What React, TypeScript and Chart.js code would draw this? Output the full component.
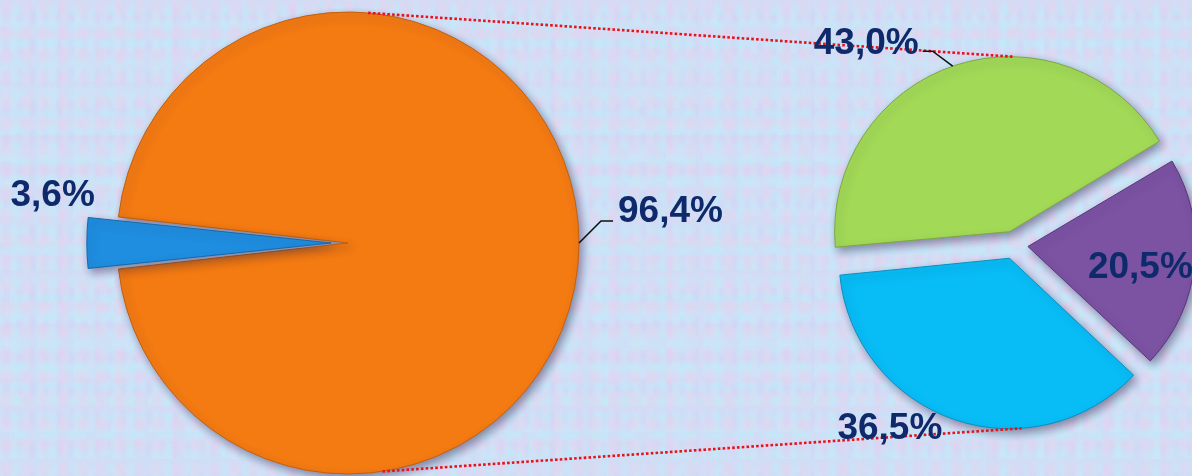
import { useEffect, useRef } from 'react';
import { Chart, registerables } from 'chart.js';

Chart.register(...registerables);

// ---- data ----
const leftCategories = ['Remainder', 'Breakdown'];
const leftValues = [96.4, 3.6];
const rightCategories = ['Group 1', 'Group 2', 'Group 3'];
const rightValues = [43.0, 20.5, 36.5];

// ---- styles ----
const leftColors = ['#f47a12', '#1f8ee0'];
const leftBorders = ['#c0600c', '#1668a8'];
const rightColors = ['#a2da57', '#7c52a3', '#08bdf6'];
const rightBorders = ['#7aa83e', '#583679', '#0690bf'];
const LABEL_COLOR = '#0e2a6a';
const FONT_SIZE = 37;
const FONT = `bold ${FONT_SIZE}px "Liberation Sans", Arial, sans-serif`;
const W = 1192;
const H = 476;

const fmt = (v: number) => v.toFixed(1).replace('.', ',') + '%';
const deg = (d: number) => (d * Math.PI) / 180;

function geom(arc: any) {
  const p = arc.getProps(['x', 'y', 'startAngle', 'endAngle', 'outerRadius'], true);
  const T = (arc.options.offset || 0) / 4;
  const mid = (p.startAngle + p.endAngle) / 2;
  const circ = p.endAngle - p.startAngle;
  const fix = 1 - Math.sin(Math.min(Math.PI, circ));
  return {
    cx: p.x + Math.cos(mid) * T,
    cy: p.y + Math.sin(mid) * T,
    r: p.outerRadius + T * fix,
    mid,
  };
}
const at = (g: any, ang: number, rr: number) => ({
  x: g.cx + Math.cos(ang) * rr,
  y: g.cy + Math.sin(ang) * rr,
});

const shadowPlugin = {
  id: 'pieShadow',
  beforeDatasetsDraw(chart: any) {
    const c = chart.ctx;
    c.save();
    c.shadowColor = 'rgba(40,30,70,0.45)';
    c.shadowBlur = 8;
    c.shadowOffsetX = 3;
    c.shadowOffsetY = 4;
  },
  afterDatasetsDraw(chart: any) {
    chart.ctx.restore();
  },
};

function text(c: CanvasRenderingContext2D, s: string, x: number, y: number, align: CanvasTextAlign) {
  c.font = FONT;
  c.fillStyle = LABEL_COLOR;
  c.textAlign = align;
  c.textBaseline = 'alphabetic';
  c.fillText(s, x, y);
}
function leader(c: CanvasRenderingContext2D, pts: { x: number; y: number }[]) {
  c.save();
  c.strokeStyle = '#111';
  c.lineWidth = 1.6;
  c.beginPath();
  pts.forEach((p, i) => (i ? c.lineTo(p.x, p.y) : c.moveTo(p.x, p.y)));
  c.stroke();
  c.restore();
}

export default function App() {
  const leftRef = useRef<HTMLCanvasElement>(null);
  const rightRef = useRef<HTMLCanvasElement>(null);

  useEffect(() => {
    document.body.style.margin = '0';
    const capH = FONT_SIZE * 0.716;

    const leftLabels = {
      id: 'leftLabels',
      afterDraw(chart: any) {
        const c = chart.ctx;
        const arcs = chart.getDatasetMeta(0).data;
        const gO = geom(arcs[0]);
        const gB = geom(arcs[1]);
        // 96,4%
        const p0 = at(gO, 0, gO.r);
        const p1 = { x: p0.x + 22, y: p0.y - 22 };
        const p2 = { x: p1.x + 12, y: p1.y };
        leader(c, [p0, p1, p2]);
        text(c, fmt(leftValues[0]), p2.x + 5, p1.y + 1, 'left');
        // 3,6%
        const base = at(gB, gB.mid, gB.r);
        text(c, fmt(leftValues[1]), base.x + 8, gB.cy - 37, 'right');
      },
    };

    const left = new Chart(leftRef.current!, {
      type: 'pie',
      data: {
        labels: leftCategories,
        datasets: [
          {
            data: leftValues,
            backgroundColor: leftColors,
            borderColor: leftBorders,
            borderWidth: 1,
            offset: [0, 68],
            clip: false as any,
          },
        ],
      },
      options: {
        responsive: false,
        animation: false,
        events: [],
        rotation: 90 + 180 + (leftValues[1] / 100) * 180,
        radius: 231,
        layout: { padding: { left: 0, right: W - 2 * 348, top: 10, bottom: 0 } },
        plugins: { legend: { display: false }, tooltip: { enabled: false } },
      },
      plugins: [shadowPlugin, leftLabels],
    });

    const rightLabels = {
      id: 'rightLabels',
      afterDraw(chart: any) {
        const c = chart.ctx;
        const arcs = chart.getDatasetMeta(0).data;
        const gG = geom(arcs[0]);
        const gP = geom(arcs[1]);
        const gC = geom(arcs[2]);
        const gO = geom(left.getDatasetMeta(0).data[0]);

        // connectors
        c.save();
        c.strokeStyle = '#e8121a';
        c.lineWidth = 2.6;
        c.setLineDash([2.6, 2.2]);
        const t0 = at(gO, deg(-85), gO.r);
        const t1 = at(gG, deg(-89), gG.r);
        const b0 = at(gO, deg(81.4), gO.r);
        const b1 = at(gC, deg(86), gC.r);
        c.beginPath();
        c.moveTo(t0.x, t0.y);
        c.lineTo(t1.x, t1.y);
        c.moveTo(b0.x, b0.y);
        c.lineTo(b1.x, b1.y);
        c.stroke();
        c.restore();

        // 43,0%
        const q0 = at(gG, deg(-109), gG.r);
        const q1 = { x: q0.x - 20, y: q0.y - 15 };
        const q2 = { x: q1.x - 10, y: q1.y };
        leader(c, [q0, q1, q2]);
        text(c, fmt(rightValues[0]), q2.x - 4, q1.y + 3, 'right');
        // 20,5%
        const pp = at(gP, gP.mid + deg(3), gP.r * 0.68);
        text(c, fmt(rightValues[1]), pp.x, pp.y + capH / 2, 'center');
        // 36,5%
        const cp = at(gC, deg(125.6), gC.r + 35);
        text(c, fmt(rightValues[2]), cp.x, cp.y + capH / 2, 'center');
      },
    };

    const greenStart = 174.5;
    const right = new Chart(rightRef.current!, {
      type: 'pie',
      data: {
        labels: rightCategories,
        datasets: [
          {
            data: rightValues,
            backgroundColor: rightColors,
            borderColor: rightBorders,
            borderWidth: 1,
            offset: 56,
            clip: false as any,
          },
        ],
      },
      options: {
        responsive: false,
        animation: false,
        events: [],
        rotation: greenStart + 90,
        radius: 167,
        layout: { padding: { left: 2 * 1014 - W, right: 0, top: 2 * 245 - H, bottom: 0 } },
        plugins: { legend: { display: false }, tooltip: { enabled: false } },
      },
      plugins: [shadowPlugin, rightLabels],
    });

    return () => {
      right.destroy();
      left.destroy();
    };
  }, []);

  const bg = {
    position: 'fixed' as const,
    left: 0,
    top: 0,
    width: W,
    height: H,
    overflow: 'hidden',
    backgroundColor: '#cddff6',
    backgroundImage: [
      'radial-gradient(ellipse at 30% 40%, rgba(236,206,236,0.55) 0, transparent 60%)',
      'radial-gradient(ellipse at 70% 60%, rgba(190,236,250,0.65) 0, transparent 60%)',
      'radial-gradient(ellipse at 50% 50%, rgba(208,206,244,0.55) 0, transparent 55%)',
      'radial-gradient(ellipse at 20% 80%, rgba(200,238,250,0.5) 0, transparent 60%)',
      'radial-gradient(ellipse at 80% 20%, rgba(230,210,240,0.45) 0, transparent 60%)',
    ].join(','),
    backgroundSize: '19px 23px, 29px 17px, 13px 31px, 37px 27px, 11px 15px',
  };
  const cv = { position: 'absolute' as const, left: 0, top: 0 };

  return (
    <div style={bg}>
      <canvas ref={leftRef} width={W} height={H} style={cv} />
      <canvas ref={rightRef} width={W} height={H} style={cv} />
    </div>
  );
}
